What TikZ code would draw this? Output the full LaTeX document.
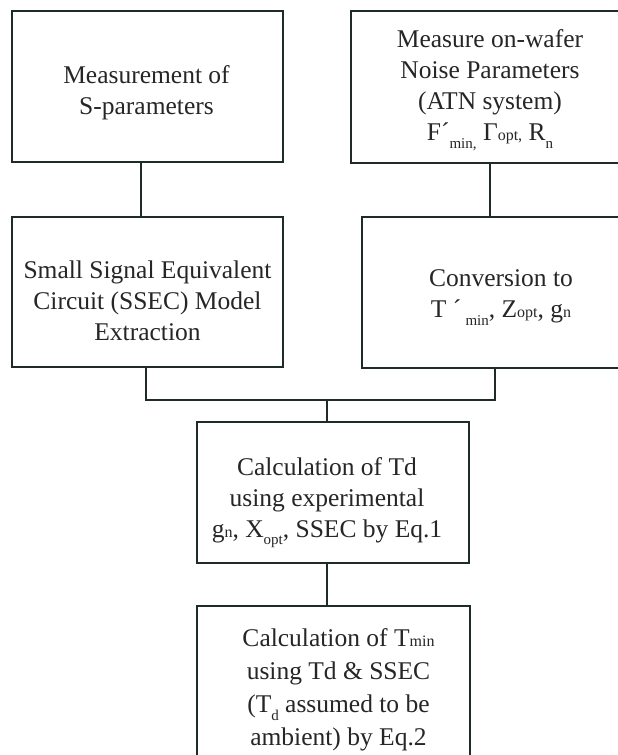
\documentclass[tikz,border=0pt]{standalone}
\usepackage{fontspec}
\usetikzlibrary{calc}
\setmainfont{Liberation Serif}
\newcommand{\lsub}[1]{\raisebox{-0.3em}{\fontsize{15}{15}\selectfont #1}}
\newcommand{\bsub}[1]{{\fontsize{16}{16}\selectfont #1}}
\definecolor{linec}{HTML}{1F2B28}
\definecolor{textc}{HTML}{262626}
\tikzset{
  box/.style={draw=linec, line width=2.3pt, inner sep=0pt},
  txt/.style={align=center, inner sep=0pt, text=textc,
    font=\fontsize{25.5}{31}\selectfont},
  link/.style={draw=linec, line width=2.3pt}
}
\begin{document}
\begin{tikzpicture}[x=1pt,y=-1pt]
\useasboundingbox (0,0) rectangle (618,755);
\fill[white] (0,0) rectangle (618,755);
\clip (0,0) rectangle (618,755);
% boxes
\node[box, minimum width=271pt, minimum height=151pt] (b1) at (147.5,86.5) {};
\node[box, minimum width=278pt, minimum height=152pt] (b2) at (490,87) {};
\node[box, minimum width=271pt, minimum height=150pt] (b3) at (147.5,292) {};
\node[box, minimum width=278pt, minimum height=151pt] (b4) at (501,292.5) {};
\node[box, minimum width=272pt, minimum height=141pt] (b5) at (333,492.5) {};
\node[box, minimum width=273pt, minimum height=174pt] (b6) at (333.5,693) {};
% texts
\node[txt] (t1) at ($(b1)+(-1,6)$) {Measurement of\\S-parameters};
\node[txt] (t2) at ($(b2)+(0,3)$)
  {Measure on-wafer\\Noise Parameters\\(ATN system)\\F´\lsub{min,} Γ\bsub{opt,} R\lsub{n}};
\node[txt] (t3) at ($(b3)+(0,9)$) {Small Signal Equivalent\\Circuit (SSEC) Model\\Extraction};
\node[txt] (t4) at ($(b4)+(0,5)$) {Conversion to\\T ´\,\lsub{min}, Z\bsub{opt}, g\bsub{n}};
\node[txt] (t5) at ($(b5)+(-6,10)$)
  {Calculation of Td\\using experimental\\g\bsub{n}, X\lsub{opt}, SSEC by Eq.1};
\node[txt, font=\fontsize{25.5}{33}\selectfont] (t6) at ($(b6)+(5,-3)$)
  {Calculation of T\bsub{min}\\using Td \& SSEC\\(T\lsub{d} assumed to be\\ambient) by Eq.2};
% connectors
\coordinate (c1) at (141,0);
\coordinate (c2) at (490,0);
\coordinate (jl) at (146,400);
\coordinate (jr) at (495,400);
\coordinate (jc) at (327,400);
\draw[link] (b1.south -| c1) -- (b3.north -| c1);
\draw[link] (b2.south -| c2) -- (b4.north -| c2);
\draw[link] (b3.south -| jl) -- (jl) -- (jr) -- (b4.south -| jr);
\draw[link] (jc) -- (b5.north -| jc);
\draw[link] (b5.south -| jc) -- (b6.north -| jc);
\end{tikzpicture}
\end{document}
